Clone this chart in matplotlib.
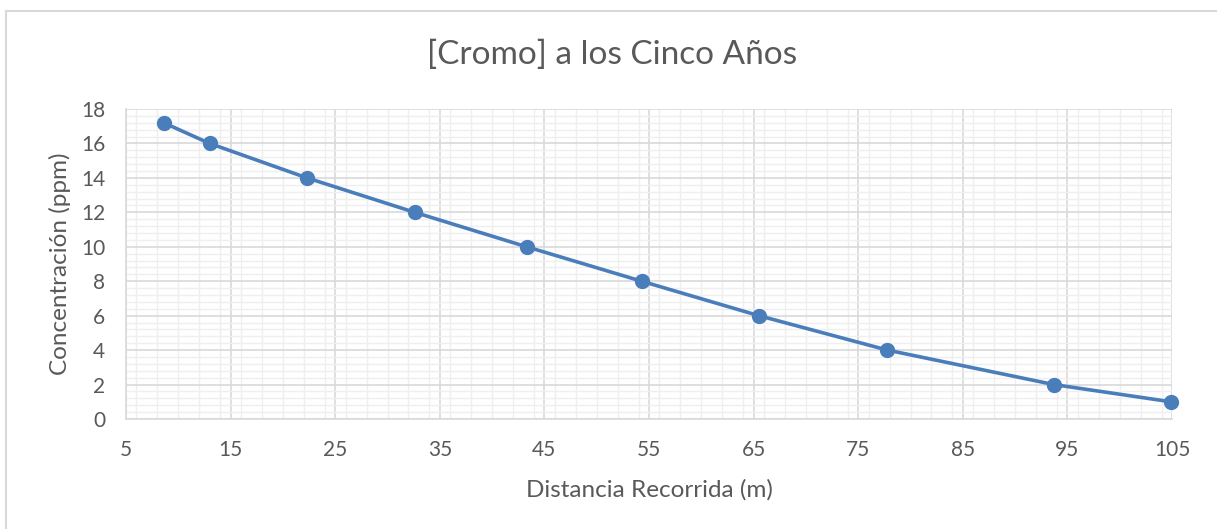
import matplotlib
matplotlib.use("Agg")
import matplotlib.pyplot as plt
from matplotlib.lines import Line2D
from matplotlib.ticker import MultipleLocator

# Distance travelled (m) and chromium concentration (ppm)
distancia = [8.6, 13.0, 22.3, 32.6, 43.3, 54.3, 65.5, 77.8, 93.7, 104.9]
concentracion = [17.2, 16, 14, 12, 10, 8, 6, 4, 2, 1]

x_ticks = [5, 15, 25, 35, 45, 55, 65, 75, 85, 95, 105]
y_ticks = [0, 2, 4, 6, 8, 10, 12, 14, 16, 18]

titulo = "[Cromo] a los Cinco Años"
etiqueta_x = "Distancia Recorrida (m)"
etiqueta_y = "Concentración (ppm)"

plt.rcParams["font.family"] = ["Lato", "DejaVu Sans"]

W, H = 1217, 529
fig = plt.figure(figsize=(W / 100, H / 100), dpi=100)
ax = fig.add_axes([126 / W, 1 - 419 / H, (1172 - 126) / W, (419 - 109) / H])

text_color = "#595959"
line_color = "#4a7ebb"
ax.plot(distancia, concentracion, color=line_color, lw=2.6, marker="o",
        markersize=10, zorder=3, solid_capstyle="round", clip_on=False)

ax.set_xlim(5, 105)
ax.set_ylim(0, 18)
ax.set_xticks(x_ticks)
ax.set_yticks(y_ticks)
ax.xaxis.set_minor_locator(MultipleLocator(2))
ax.yaxis.set_minor_locator(MultipleLocator(0.4))

ax.grid(which="major", color="#d9d9d9", lw=1.2)
ax.grid(which="minor", color="#efefef", lw=1.0)
ax.set_axisbelow(True)

for side in ["top", "right"]:
    ax.spines[side].set_visible(False)
for side in ["left", "bottom"]:
    ax.spines[side].set_color("#d9d9d9")
    ax.spines[side].set_linewidth(1.2)

ax.tick_params(which="both", length=0, labelsize=15, colors=text_color)
ax.tick_params(axis="x", pad=15)
ax.tick_params(axis="y", pad=15)

ax.set_xlabel(etiqueta_x, fontsize=17.5, color=text_color, va="center")
ax.set_ylabel(etiqueta_y, fontsize=17.5, color=text_color, va="center")
ax.xaxis.set_label_coords((126 + 1172) / 2 / W, 1 - 490 / H, transform=fig.transFigure)
ax.yaxis.set_label_coords(60 / W, 1 - 264 / H, transform=fig.transFigure)

fig.text(612 / W, 1 - 55 / H, titulo, ha="center", va="center",
         fontsize=24, color=text_color)

# chart frame
frame_kw = dict(color="#d9d9d9", lw=1.5, transform=fig.transFigure)
fig.add_artist(Line2D([5.5 / W, 1.0], [1 - 10.5 / H, 1 - 10.5 / H], **frame_kw))
fig.add_artist(Line2D([5.5 / W, 5.5 / W], [0, 1 - 10.5 / H], **frame_kw))

fig.savefig("out.png", dpi=100, facecolor="white")
